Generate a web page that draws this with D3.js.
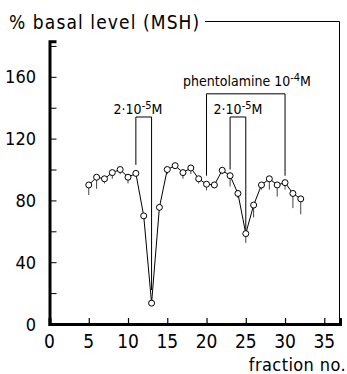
<!DOCTYPE html>
<html>
<head>
<meta charset="utf-8">
<script src="https://cdn.jsdelivr.net/npm/d3@7"></script>
<style>
  body { margin: 0; background: #fff; }
  svg text { font-family: "DejaVu Sans Condensed", "Liberation Sans Narrow", sans-serif; fill: #000; }
</style>
</head>
<body>
<div id="chart"></div>
<script>
// Data
const fractions = [5, 6, 7, 8, 9, 10, 11, 12, 13, 14, 15, 16, 17, 18, 19, 20, 21, 22, 23, 24, 25, 26, 27, 28, 29, 30, 31, 32];
const values = [90, 95, 94, 98, 100, 95, 97.5, 70, 13.5, 75.5, 100, 102.5, 98, 101, 94, 90.5, 90, 99.5, 96, 84.5, 58.5, 77, 90, 94, 90, 91.5, 84.5, 81];
const errors = [6.5, 7.5, 3, 4, 3, 4, 2, 0, 0, 0, 3, 2, 4, 4, 3, 4, 2, 2.5, 7, 3, 6, 8, 3, 7, 7.5, 4.5, 9.5, 10];

const yTicks = [0, 20, 40, 60, 80, 100, 120, 140, 160, 180];
const yLabels = [0, 40, 80, 120, 160];
const xTicks = [0, 5, 10, 15, 20, 25, 30, 35];

// Treatment brackets: [start fraction, end fraction, top, left foot, right foot]
const bracketStarts = [11, 20, 23];
const bracketEnds = [13, 30, 25];
const bracketTops = [134, 149, 134];
const bracketLeftFeet = [103, 96, 100];
const bracketRightFeet = [22, 96, 61];

const width = 347, height = 374;

const svg = d3.select("#chart")
    .append("svg")
    .attr("width", width)
    .attr("height", height);

const x = d3.scaleLinear().domain([0, 37]).range([49.5, 340]);
const y = d3.scaleLinear().domain([0, 183]).range([324, 41.3]);

// Title and frame
svg.append("text")
    .attr("x", 9)
    .attr("y", 29)
    .attr("font-size", 19)
    .attr("letter-spacing", 1.1)
    .text("% basal level (MSH)");

svg.append("path")
    .attr("d", `M205,21.5H339.5V${y(0)}`)
    .attr("fill", "none")
    .attr("stroke", "#000")
    .attr("stroke-width", 1);

// Y axis
const yAxis = d3.axisRight(y)
    .tickValues(yTicks)
    .tickSize(7)
    .tickFormat("");
const gy = svg.append("g")
    .attr("transform", `translate(${x(0)},0)`)
    .call(yAxis);
gy.select(".domain").attr("stroke-width", 3);
gy.selectAll(".tick line").attr("stroke-width", 1);

svg.selectAll(".ylab")
    .data(yLabels)
    .enter()
    .append("text")
    .attr("class", "ylab")
    .attr("x", 36)
    .attr("y", d => y(d) + 6.5)
    .attr("text-anchor", "end")
    .attr("font-size", 18)
    .text(d => d);

// X axis
const xAxis = d3.axisTop(x)
    .tickValues(xTicks)
    .tickSize(6)
    .tickFormat("");
const gx = svg.append("g")
    .attr("transform", `translate(0,${y(0)})`)
    .call(xAxis);
gx.select(".domain").attr("stroke-width", 3);
gx.selectAll(".tick line").attr("stroke-width", 1.2);

svg.selectAll(".xlab")
    .data(xTicks)
    .enter()
    .append("text")
    .attr("class", "xlab")
    .attr("x", d => x(d))
    .attr("y", 348)
    .attr("text-anchor", "middle")
    .attr("font-size", 19)
    .text(d => d);

svg.append("text")
    .attr("x", 346)
    .attr("y", 371)
    .attr("text-anchor", "end")
    .attr("font-size", 18)
    .attr("letter-spacing", 0.4)
    .text("fraction no.");

// Brackets
bracketStarts.forEach((s, i) => {
    svg.append("path")
        .attr("d", `M${x(s)},${y(bracketLeftFeet[i])}V${y(bracketTops[i])}H${x(bracketEnds[i])}V${y(bracketRightFeet[i])}`)
        .attr("fill", "none")
        .attr("stroke", "#000")
        .attr("stroke-width", 1);
});

function concLabel(cx, cy, base, exp) {
    const t = svg.append("text")
        .attr("x", cx)
        .attr("y", cy)
        .attr("text-anchor", "middle")
        .attr("font-size", 14);
    t.append("tspan").text(base);
    t.append("tspan").attr("dy", -5).attr("font-size", 11).text(exp);
    t.append("tspan").attr("dy", 5).text("M");
}
concLabel(138, 114, "2\u00b710", "-5");
concLabel(238, 114, "2\u00b710", "-5");
concLabel(247, 86, "phentolamine 10", "-4");

// Error bars (downward)
const pts = fractions.map((f, i) => ({ f: f, v: values[i], e: errors[i] }));
svg.selectAll(".err")
    .data(pts.filter(d => d.e > 0))
    .enter()
    .append("line")
    .attr("class", "err")
    .attr("x1", d => x(d.f))
    .attr("x2", d => x(d.f))
    .attr("y1", d => y(d.v))
    .attr("y2", d => y(d.v - d.e))
    .attr("stroke", "#444")
    .attr("stroke-width", 1);

// Line
svg.append("path")
    .datum(pts)
    .attr("fill", "none")
    .attr("stroke", "#000")
    .attr("stroke-width", 1)
    .attr("d", d3.line().x(d => x(d.f)).y(d => y(d.v)));

// Points
svg.selectAll(".pt")
    .data(pts)
    .enter()
    .append("circle")
    .attr("class", "pt")
    .attr("cx", d => x(d.f))
    .attr("cy", d => y(d.v))
    .attr("r", 3)
    .attr("fill", "#fff")
    .attr("stroke", "#000")
    .attr("stroke-width", 1);
</script>
</body>
</html>
